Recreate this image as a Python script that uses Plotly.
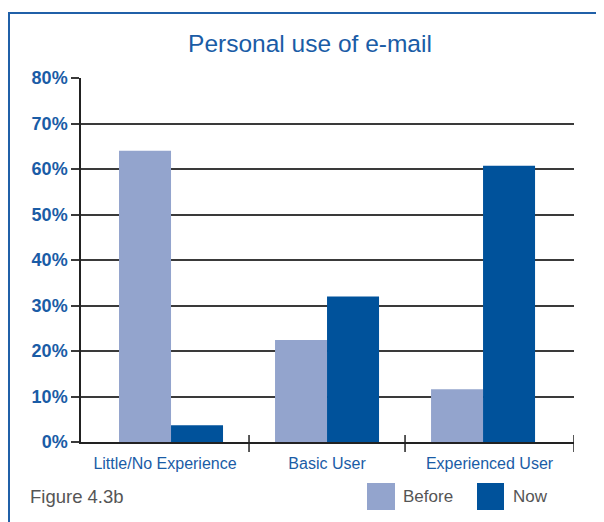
import plotly.graph_objects as go

# ---- data ----
categories = ["Little/No Experience", "Basic User", "Experienced User"]
before = [0.64, 0.224, 0.116]
now = [0.037, 0.32, 0.607]
series_names = ["Before", "Now"]
y_ticks = [0, 0.1, 0.2, 0.3, 0.4, 0.5, 0.6, 0.7, 0.8]

# ---- layout geometry (page pixels; the page body has an 8px margin) ----
OFF = 8
W, H = 604 - OFF, 522 - OFF
PL, PR, PT, PB = 81, 574, 78, 442  # plot area in page pixels
L, T = PL - OFF, PT - OFF
R, B = W - (PR - OFF), H - (PB - OFF)
PW, PH = PR - PL, PB - PT

def px_x(x):
    return (x - PL) / PW

def px_y(y):
    return (PB - y) / PH

BEFORE_C = "#93a4cd"
NOW_C = "#00529b"
BLUE_TXT = "#1a5ca6"
GRAY_TXT = "#555555"
FONT = "Liberation Sans, Arial, sans-serif"

idx = list(range(len(categories)))
x_lo, x_hi = -0.577, 2.583
bounds = [x_lo] + [i + 0.5 for i in idx[:-1]] + [x_hi]
label_pos = [(bounds[i] + bounds[i + 1]) / 2 for i in idx]

fig = go.Figure()
fig.add_bar(x=idx, y=before, name=series_names[0], marker_color=BEFORE_C,
            marker_line_width=0)
fig.add_bar(x=idx, y=now, name=series_names[1], marker_color=NOW_C,
            marker_line_width=0)

shapes = []
for b in bounds[1:]:
    shapes.append(dict(type="line", xref="x", yref="paper", x0=b, x1=b,
                       y0=px_y(435), y1=px_y(452),
                       line=dict(color="#222222", width=1.5)))
shapes.append(dict(type="rect", xref="paper", yref="paper",
                   x0=px_x(9), x1=px_x(660), y0=px_y(600), y1=px_y(13),
                   line=dict(color="#2060a8", width=2), layer="below"))
shapes.append(dict(type="rect", xref="paper", yref="paper",
                   x0=px_x(367), x1=px_x(395), y0=px_y(510), y1=px_y(483),
                   fillcolor=BEFORE_C, line_width=0))
shapes.append(dict(type="rect", xref="paper", yref="paper",
                   x0=px_x(477), x1=px_x(504), y0=px_y(510), y1=px_y(483),
                   fillcolor=NOW_C, line_width=0))

annotations = [
    dict(text=series_names[0], xref="paper", yref="paper", x=px_x(401), y=px_y(497),
         xanchor="left", yanchor="middle", showarrow=False,
         font=dict(family=FONT, size=17, color=GRAY_TXT)),
    dict(text=series_names[1], xref="paper", yref="paper", x=px_x(511), y=px_y(497),
         xanchor="left", yanchor="middle", showarrow=False,
         font=dict(family=FONT, size=17, color=GRAY_TXT)),
    dict(text="Figure 4.3b", xref="paper", yref="paper", x=px_x(28), y=px_y(497),
         xanchor="left", yanchor="middle", showarrow=False,
         font=dict(family=FONT, size=18.5, color=GRAY_TXT)),
]

fig.update_layout(
    width=W, height=H,
    margin=dict(l=L, r=R, t=T, b=B),
    paper_bgcolor="white", plot_bgcolor="white",
    barmode="group", bargap=1 / 3, bargroupgap=0,
    showlegend=False,
    title=dict(text="Personal use of e-mail", xref="container", yref="container",
               x=(310 - OFF) / W, xanchor="center",
               y=1 - (43 - OFF) / H, yanchor="middle",
               font=dict(family=FONT, size=24.5, color=BLUE_TXT)),
    xaxis=dict(range=[x_lo, x_hi], tickvals=label_pos, ticktext=categories,
               ticks="", showgrid=False, zeroline=False,
               showline=True, linecolor="#222222", linewidth=2,
               ticklabelstandoff=6,
               tickfont=dict(family=FONT, size=16, color=BLUE_TXT)),
    yaxis=dict(range=[0, 0.8], tickvals=y_ticks, tickformat=".0%",
               showgrid=True, gridcolor="#3a3a3a", gridwidth=1.5,
               ticks="outside", ticklen=8, tickcolor="#3a3a3a", tickwidth=1.5,
               zeroline=False, showline=True, linecolor="#222222", linewidth=1.5,
               tickfont=dict(family=FONT, size=18, color=BLUE_TXT, weight="bold")),
    shapes=shapes,
    annotations=annotations,
)

fig.write_html("out.html")
